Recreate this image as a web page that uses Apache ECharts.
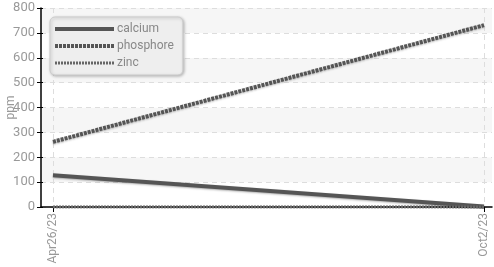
<!DOCTYPE html>
<html><head><meta charset="utf-8">
<script src="https://cdn.jsdelivr.net/npm/echarts@6/dist/echarts.min.js"></script>
<style>html,body{margin:0;padding:0;background:#fff}#c{width:494px;height:267px}</style>
</head><body><div id="c"></div>
<script>
var dateLabels = ['Apr26/23', 'Oct2/23'];
var dayOffsets = [0, 159];
var calcium = [128, 2];
var phosphore = [262, 731];
var zinc = [0, 0];
var yTicks = [0, 100, 200, 300, 400, 500, 600, 700, 800];

var font = 'Roboto';
var span = dayOffsets[1] - dayOffsets[0];
function pairs(v){ return dayOffsets.map(function(d,i){ return [d, v[i]]; }); }

var styles = {
  calcium: {color: '#555', width: 4, type: 'solid'},
  phosphore: {color: '#555', width: 4, type: [3, 1]},
  zinc: {color: '#666', width: 3, type: [2, 1]}
};

var chart = echarts.init(document.getElementById('c'), null, {renderer:'canvas'});
chart.setOption({
  animation: false,
  backgroundColor: '#fff',
  grid: {left: 41, right: 2, top: 8, bottom: 60, containLabel: false, outerBoundsMode: 'none'},
  legend: {
    left: 50, top: 17, orient: 'vertical',
    backgroundColor: '#eeeeee', borderColor: '#cccccc', borderWidth: 1, borderRadius: 5,
    shadowColor: 'rgba(0,0,0,0.25)', shadowBlur: 3, shadowOffsetX: 1, shadowOffsetY: 1,
    padding: [6, 9, 6, 3], itemWidth: 59, itemHeight: 12, itemGap: 5,
    itemStyle: {opacity: 0},
    textStyle: {color: '#888', fontFamily: font, fontSize: 12, padding: [0,0,0,-2]},
    data: ['calcium', 'phosphore', 'zinc'].map(function(n){
      return {name: n, lineStyle: {width: styles[n].width, type: styles[n].type, color: styles[n].color}};
    })
  },
  xAxis: {
    type: 'value',
    min: dayOffsets[0] - span * 12 / 431,
    max: dayOffsets[1] + span * 8 / 431,
    axisLine: {show: true, onZero: false, lineStyle: {color: '#000', width: 1.5}},
    axisTick: {show: true, customValues: dayOffsets, length: 5, lineStyle: {color: '#000'}},
    axisLabel: {
      customValues: dayOffsets, rotate: 90, color: '#999', fontFamily: font, fontSize: 12, margin: 6,
      formatter: function(v){ var i = dayOffsets.indexOf(v); return i >= 0 ? dateLabels[i] : ''; }
    },
    splitLine: {show: true, lineStyle: {color: '#dddddd', type: [5, 4]}}
  },
  yAxis: [{
    type: 'value', min: yTicks[0], max: yTicks[yTicks.length-1], interval: 100,
    name: 'ppm', nameLocation: 'middle', nameGap: 24, nameMoveOverlap: false,
    nameTextStyle: {color: '#999', fontFamily: font, fontSize: 12},
    axisLine: {show: true, onZero: false, lineStyle: {color: '#000', width: 1.5}},
    axisTick: {show: true, length: 4, lineStyle: {color: '#000'}},
    axisLabel: {color: '#999', fontFamily: font, fontSize: 13, margin: 6},
    splitLine: {show: true, lineStyle: {color: '#dddddd', type: [5, 4]}},
    splitArea: {show: true, areaStyle: {color: ['#ffffff', '#f6f6f6']}}
  }, {
    type: 'value', min: yTicks[0], max: yTicks[yTicks.length-1], interval: 100, position: 'left',
    axisLine: {show: false, onZero: false}, axisTick: {show: true, inside: true, length: 2, lineStyle: {color: '#000'}},
    axisLabel: {show: false}, splitLine: {show: false}
  }],
  series: ['calcium', 'phosphore', 'zinc'].map(function(n){
    var v = n === 'calcium' ? calcium : (n === 'phosphore' ? phosphore : zinc);
    return {name: n, type: 'line', data: pairs(v), symbol: 'none',
      lineStyle: {color: styles[n].color, width: styles[n].width, type: styles[n].type,
        shadowColor: 'rgba(0,0,0,0.3)', shadowBlur: 2, shadowOffsetY: 1},
      itemStyle: {color: styles[n].color}};
  })
});
</script></body></html>
